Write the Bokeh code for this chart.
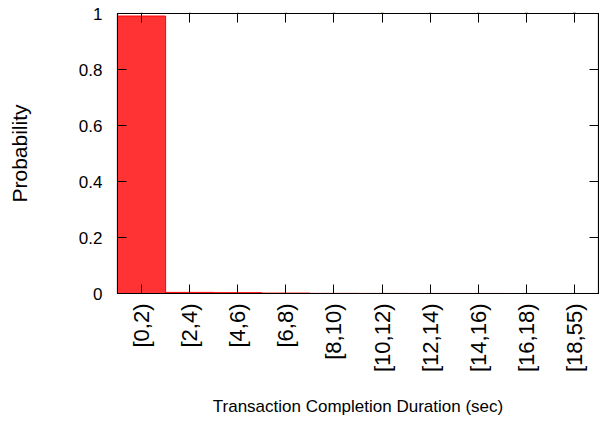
import math
from bokeh.plotting import figure
from bokeh.models import FactorRange, Range1d, LinearAxis, CategoricalAxis, FixedTicker
from bokeh.embed import file_html
from bokeh.resources import INLINE

categories = ["[0,2)", "[2,4)", "[4,6)", "[6,8)", "[8,10)", "[10,12)", "[12,14)", "[14,16)", "[16,18)", "[18,55)"]
probability = [0.991, 0.004, 0.003, 0.0015, 0.0005, 0.0003, 0.0002, 0.0002, 0.0001, 0.0001]
y_ticks = [0, 0.2, 0.4, 0.6, 0.8, 1]
y_tick_labels = {0: "0", 0.2: "0.2", 0.4: "0.4", 0.6: "0.6", 0.8: "0.8", 1: "1"}

FONT = "Liberation Sans"

p = figure(width=599, height=428, output_backend="svg", toolbar_location=None,
           x_range=FactorRange(*categories, range_padding=0), y_range=Range1d(0, 1),
           min_border_left=117, min_border_right=1, min_border_top=13, min_border_bottom=135)
p.background_fill_color = "white"
p.border_fill_color = "white"
p.outline_line_color = "black"
p.outline_line_width = 1.2
p.grid.visible = False

p.vbar(x=categories, top=probability, width=1.0, fill_color="#ff3333", line_color="#ff0000", line_width=1)

for ax in [p.xaxis[0], p.yaxis[0]]:
    ax.major_tick_in = 9
    ax.major_tick_out = 0
    ax.minor_tick_line_color = None
    ax.axis_line_color = "black"
    ax.major_tick_line_color = "black"
    ax.major_label_text_font = FONT
    ax.major_label_text_color = "black"
    ax.axis_label_text_font = FONT
    ax.axis_label_text_font_style = "normal"
    ax.axis_label_text_color = "black"

p.yaxis[0].ticker = FixedTicker(ticks=y_ticks)
p.yaxis[0].major_label_overrides = y_tick_labels
p.yaxis[0].major_label_text_font_size = "17px"
p.yaxis[0].major_label_standoff = 15
p.yaxis[0].axis_label = "Probability"
p.yaxis[0].axis_label_text_font_size = "21px"
p.yaxis[0].axis_label_standoff = 45

p.xaxis[0].major_label_text_font_size = "22px"
p.xaxis[0].major_label_standoff = 10
p.xaxis[0].major_label_orientation = math.pi / 2
p.xaxis[0].axis_label = "Transaction Completion Duration (sec)"
p.xaxis[0].axis_label_text_font_size = "17px"
p.xaxis[0].axis_label_standoff = 22

right = LinearAxis(ticker=FixedTicker(ticks=y_ticks), major_tick_in=9, major_tick_out=0,
                   minor_tick_line_color=None, major_label_overrides={t: "" for t in y_ticks},
                   major_label_text_font_size="1px", major_label_standoff=0, axis_line_color="black")
p.add_layout(right, "right")
top = CategoricalAxis(major_tick_in=9, major_tick_out=0, minor_tick_line_color=None,
                      major_label_overrides={c: "" for c in categories},
                      major_label_text_font_size="1px", major_label_standoff=0,
                      axis_line_color="black")
p.add_layout(top, "above")

open("out.html", "w").write(file_html(p, INLINE))
